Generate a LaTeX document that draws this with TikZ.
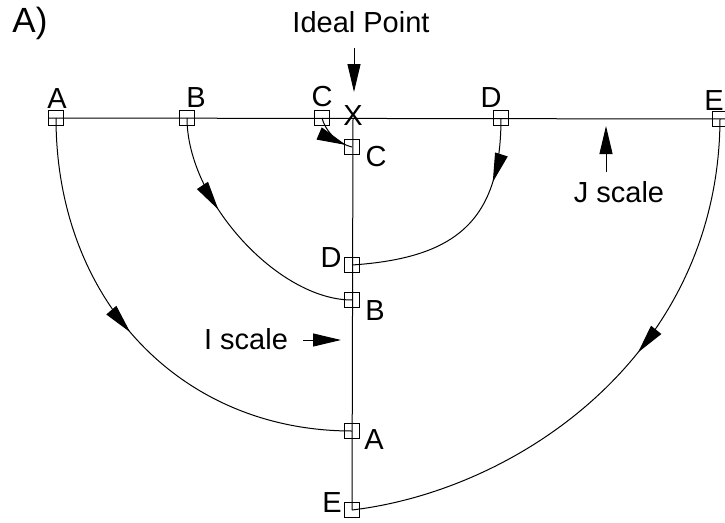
\documentclass[tikz,border=0pt]{standalone}
\usepackage{fontspec}
\setmainfont{Liberation Sans}
\usetikzlibrary{arrows.meta,decorations.markings}
\begin{document}
\begin{tikzpicture}[x=1pt,y=-1pt,
  every node/.style={inner sep=0pt,outer sep=0pt},
  lbl/.style={font=\fontsize{29}{32}\selectfont},
  big/.style={font=\fontsize{35}{38}\selectfont},
  sq/.style={draw,line width=1pt,minimum size=15pt,inner sep=0pt},
  ln/.style={line width=1pt},
  headarrow/.style={line width=1pt,-{Triangle[length=28pt,width=13pt]}},
  arrowat/.style={postaction={decorate},decoration={markings,mark=at position #1 with {\arrow{Triangle[length=29pt,width=13pt]}}}}
]
\useasboundingbox (0,0) rectangle (725,522);

% title
\node[big] (title) at (30,23) {A)};
\node[lbl] (ideal) at (361,22) {Ideal Point};

% J scale squares (horizontal)
\node[sq] (jA) at (56,118) {};
\node[sq] (jB) at (187,118) {};
\node[sq] (jC) at (322,118) {};
\node[sq] (jD) at (501,118) {};
\node[sq] (jE) at (720,119) {};
\coordinate (xp) at (353,118);
\node[lbl] (xmark) at (353,116) {X};

% I scale squares (vertical)
\node[sq] (iC) at (352,147) {};
\node[sq] (iD) at (352,265) {};
\node[sq] (iB) at (352,300) {};
\node[sq] (iA) at (352,431) {};
\node[sq] (iE) at (352,510) {};

% labels on J scale
\node[lbl] (lA) at (57,99) {A};
\node[lbl] (lB) at (196,98) {B};
\node[lbl] (lC) at (322,97) {C};
\node[lbl] (lD) at (491,98) {D};
\node[lbl] (lE) at (714,101) {E};

% labels on I scale
\node[lbl] (mC) at (376,157) {C};
\node[lbl] (mD) at (331,258) {D};
\node[lbl] (mB) at (375,311) {B};
\node[lbl] (mA) at (374,440) {A};
\node[lbl] (mE) at (332,503) {E};

% scale labels
\node[lbl] (js) at (619,192) {J scale};
\node[lbl] (is) at (246,339) {I scale};

% scale lines
\draw[ln] (jA.west) -- (jE.east);
\draw[ln] (xp) -- (iE.center);

% pointer arrows
\coordinate (idealTail) at (354,48);
\coordinate (idealTip) at (354,92);
\draw[headarrow] (idealTail) -- (idealTip);
\coordinate (jTail) at (606,172);
\coordinate (jTip) at (606,126);
\draw[headarrow] (jTail) -- (jTip);
\coordinate (iTail) at (303,340);
\coordinate (iTip) at (341,340);
\draw[headarrow] (iTail) -- (iTip);

% mapping arcs
\draw[ln,arrowat=0.48] (jA.center) .. controls (56,299.5) and (180,431) .. (iA.center);
\draw[ln,arrowat=0.37] (jB.center) .. controls (187,200) and (278,300) .. (iB.center);
\draw[ln,arrowat=0.85] (jC.center) .. controls (325,130) and (336,143) .. (iC.center);
\draw[ln,arrowat=0.27] (jD.center) .. controls (501,221) and (456,258) .. (iD.center);
\draw[ln,arrowat=0.43] (jE.center) .. controls (719,353) and (520,490) .. (iE.center);
\end{tikzpicture}
\end{document}
